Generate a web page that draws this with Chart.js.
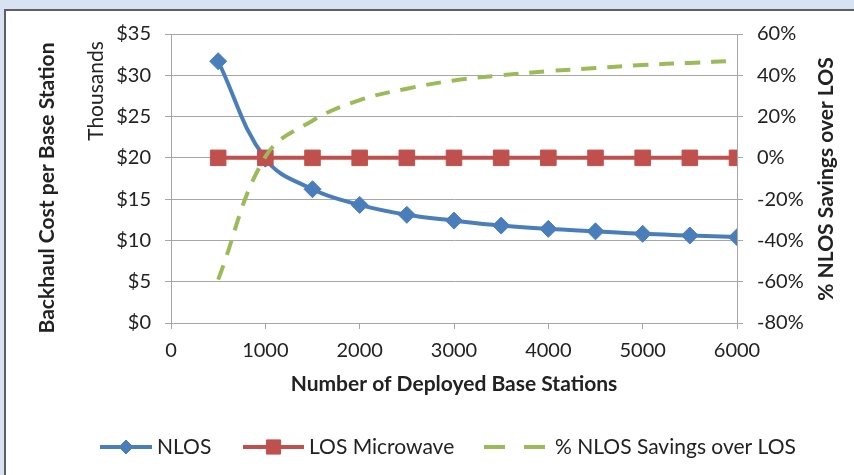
<!DOCTYPE html>
<html>
<head>
<meta charset="utf-8">
<script src="https://cdn.jsdelivr.net/npm/chart.js@4/dist/chart.umd.min.js"></script>
<style>
  html, body { margin: 0; padding: 0; background: #ffffff; }
  #wrap { position: relative; width: 854px; height: 475px; }
</style>
</head>
<body>
<div id="wrap"><canvas id="chart" width="854" height="475"></canvas></div>
<script>
// Deployment sizes (x) and the three series
const stations   = [500, 1000, 1500, 2000, 2500, 3000, 3500, 4000, 4500, 5000, 5500, 6000];
const nlosCost   = [31.7, 19.9, 16.2, 14.3, 13.1, 12.4, 11.8, 11.4, 11.1, 10.8, 10.6, 10.4]; // $ thousands
const losCost    = [20, 20, 20, 20, 20, 20, 20, 20, 20, 20, 20, 20];                       // $ thousands
const savingsPct = [-59, 0.5, 18, 28, 33.5, 37.5, 40, 42, 43.5, 45, 46, 47];              // %

const seriesNames = ['NLOS', 'LOS Microwave', '% NLOS Savings over LOS'];
const costTicks   = [0, 5, 10, 15, 20, 25, 30, 35];
const pctTicks    = [-80, -60, -40, -20, 0, 20, 40, 60];
const xTicks      = [0, 1000, 2000, 3000, 4000, 5000, 6000];

const BLUE = '#4a7ebb', RED = '#c0504d', GREEN = '#9bbb59';
const GRID = '#a6a6a6', TEXT = '#222222';
const FONT = 'Lato, "Open Sans", sans-serif';

const pts = (ys) => stations.map((x, i) => ({ x, y: ys[i] }));

// Light blue page band with a white panel framed on the top and left
const framePlugin = {
  id: 'frame',
  beforeDraw(chart) {
    const { ctx, width, height } = chart;
    ctx.save();
    ctx.fillStyle = '#d7e3f2';
    ctx.fillRect(0, 0, width, height);
    ctx.fillStyle = '#ffffff';
    ctx.fillRect(5, 10, width - 5, height - 10);
    ctx.fillStyle = '#5f5f5f';
    ctx.fillRect(4, 9, 2, height - 9);
    ctx.fillRect(4, 9, width - 4, 2);
    ctx.restore();
  }
};

function rotatedText(ctx, text, x, y, font) {
  ctx.save();
  ctx.fillStyle = TEXT;
  ctx.font = font;
  ctx.textAlign = 'center';
  ctx.textBaseline = 'middle';
  ctx.translate(x, y);
  ctx.rotate(-Math.PI / 2);
  ctx.fillText(text, 0, 0);
  ctx.restore();
}

// Vertical axis titles, the "Thousands" unit label and the legend row
const extrasPlugin = {
  id: 'extras',
  afterDraw(chart) {
    const { ctx } = chart;
    rotatedText(ctx, 'Backhaul Cost per Base Station', 47, 188, 'bold 21px ' + FONT);
    rotatedText(ctx, 'Thousands', 96, 91, '21px ' + FONT);
    rotatedText(ctx, '% NLOS Savings over LOS', 826, 179, 'bold 21px ' + FONT);

    const ly = 447;
    const items = [
      { x0: 100, x1: 152, tx: 157, color: BLUE, style: 'rectRot', r: 7 },
      { x0: 243, x1: 304, tx: 309, color: RED, style: 'rect', r: 10 },
      { x0: 484, x1: 545, tx: 555, color: GREEN, style: false, r: 0 }
    ];
    items.forEach((it, i) => {
      ctx.save();
      ctx.strokeStyle = it.color;
      ctx.lineWidth = 4;
      ctx.lineCap = 'butt';
      ctx.beginPath();
      if (it.style) {
        ctx.moveTo(it.x0, ly);
        ctx.lineTo(it.x1, ly);
      } else {
        ctx.moveTo(it.x0, ly);
        ctx.lineTo(it.x0 + 21, ly);
        ctx.moveTo(it.x1 - 21, ly);
        ctx.lineTo(it.x1, ly);
      }
      ctx.stroke();
      if (it.style) {
        ctx.fillStyle = it.color;
        ctx.lineWidth = 1;
        Chart.helpers.drawPoint(ctx, { pointStyle: it.style, radius: it.r, borderWidth: 1 }, (it.x0 + it.x1) / 2, ly);
      }
      ctx.fillStyle = TEXT;
      ctx.font = '21px ' + FONT;
      ctx.textAlign = 'left';
      ctx.textBaseline = 'middle';
      ctx.fillText(seriesNames[i], it.tx, ly);
      ctx.restore();
    });
  }
};

new Chart(document.getElementById('chart'), {
  type: 'line',
  data: {
    datasets: [
      {
        label: seriesNames[0], data: pts(nlosCost), yAxisID: 'y', order: 2,
        borderColor: BLUE, backgroundColor: BLUE, borderWidth: 4, tension: 0.4,
        pointStyle: 'rectRot', pointRadius: 8.5, pointBorderWidth: 1, pointHoverRadius: 8.5
      },
      {
        label: seriesNames[1], data: pts(losCost), yAxisID: 'y', order: 1,
        borderColor: RED, backgroundColor: RED, borderWidth: 4, tension: 0,
        pointStyle: 'rect', pointRadius: 11, pointBorderWidth: 1, pointHoverRadius: 11
      },
      {
        label: seriesNames[2], data: pts(savingsPct), yAxisID: 'y1', order: 0,
        borderColor: GREEN, backgroundColor: GREEN, borderWidth: 4, tension: 0.4,
        borderDash: [15, 11], pointRadius: 0, pointHoverRadius: 0
      }
    ]
  },
  options: {
    responsive: false,
    animation: false,
    events: [],
    layout: { padding: { left: 0, right: 0, top: 34, bottom: 72 } },
    plugins: { legend: { display: false }, tooltip: { enabled: false } },
    scales: {
      x: {
        type: 'linear', position: 'bottom', min: 0, max: 6000,
        afterBuildTicks: (s) => { s.ticks = xTicks.map(v => ({ value: v })); },
        afterFit: (s) => { s.height = 80; },
        grid: { display: true, drawOnChartArea: false, drawTicks: true, tickLength: 6, color: GRID, lineWidth: 1 },
        border: { display: true, color: GRID, width: 1 },
        ticks: { color: TEXT, font: { family: FONT, size: 20 }, padding: 10, callback: v => String(v) },
        title: {
          display: true, text: 'Number of Deployed Base Stations', color: TEXT,
          font: { family: FONT, size: 21, weight: 'bold' }, padding: { top: 0, bottom: 6 }
        }
      },
      y: {
        type: 'linear', position: 'left', min: 0, max: 35,
        afterBuildTicks: (s) => { s.ticks = costTicks.map(v => ({ value: v })); },
        afterFit: (s) => { s.width = 171; },
        grid: { color: GRID, lineWidth: 1, tickLength: 6 },
        border: { display: true, color: GRID, width: 1 },
        ticks: { color: TEXT, font: { family: FONT, size: 20 }, padding: 14, callback: v => '$' + v },
        title: { display: false }
      },
      y1: {
        type: 'linear', position: 'right', min: -80, max: 60,
        afterBuildTicks: (s) => { s.ticks = pctTicks.map(v => ({ value: v })); },
        afterFit: (s) => { s.width = 117; },
        grid: { drawOnChartArea: false, color: GRID, lineWidth: 1, tickLength: 6 },
        border: { display: true, color: GRID, width: 1 },
        ticks: { color: TEXT, font: { family: FONT, size: 20 }, padding: 14, callback: v => v + '%' },
        title: { display: false }
      }
    }
  },
  plugins: [framePlugin, extrasPlugin]
});
</script>
</body>
</html>
